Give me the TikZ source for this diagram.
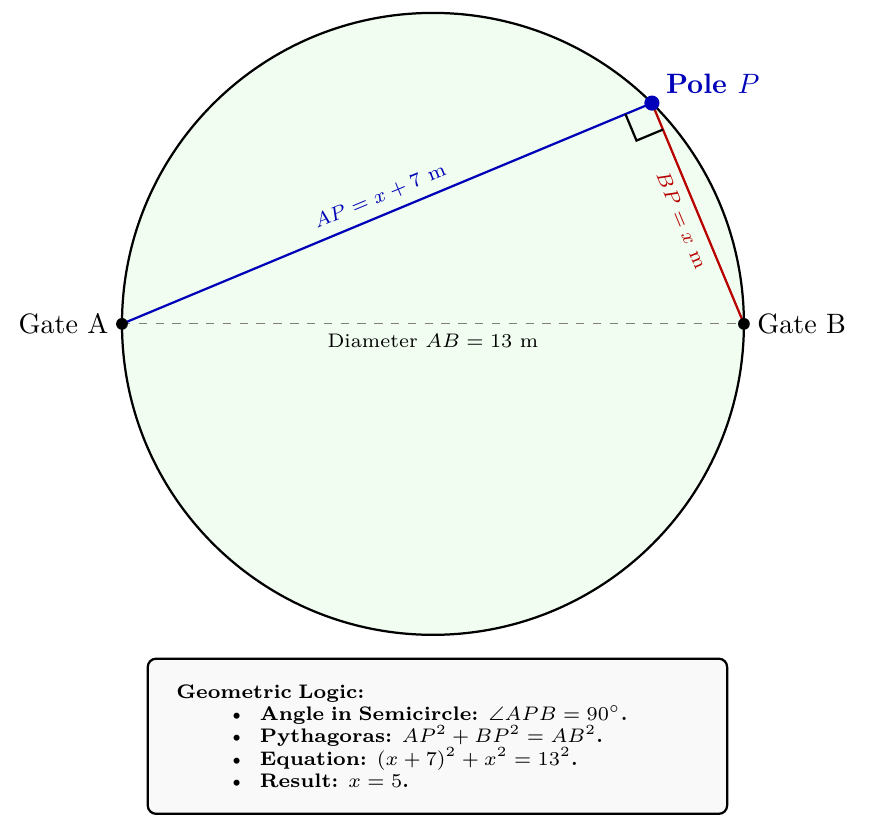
\documentclass[tikz,border=0pt]{standalone}
\usepackage{amsmath}
\usepackage{amssymb}
\usepackage{tikz}
\usetikzlibrary{calc}
\usepackage{xcolor}
\definecolor{poleblue}{RGB}{0,0,185}
\definecolor{sidered}{RGB}{185,0,0}
\definecolor{fieldgreen}{RGB}{240,253,240}
\tikzstyle{sidelabel} = [midway, sloped, font=\scriptsize]
\tikzstyle{logicbox} = [draw, thick, rounded corners=3pt, fill=gray!5, text width=6.55cm, inner xsep=10.2pt, inner ysep=9.2pt, align=left, font=\scriptsize\bfseries]
\newcommand{\logicitem}{\par\hspace*{18pt}\makebox[11.8pt][l]{\textbullet}}

\begin{document}
\begin{tikzpicture}[scale=0.6]
\useasboundingbox (-9.05,-10.57) rectangle (9.24,6.77);

% Field circle, diameter AB = 13
\draw[thick, fill=fieldgreen] (0,0) circle (6.5);
\coordinate (A) at (-6.5,0);
\coordinate (B) at (6.5,0);
\coordinate (P) at (4.577,4.615);

% Diameter
\draw[gray, dashed] (A) -- (B) node[midway, below, text=black, font=\scriptsize] {Diameter $AB = 13$ m};

% Sides of the triangle
\draw[thick, poleblue] (A) -- (P) node[sidelabel, above] {$AP = x + 7$ m};
\draw[thick, sidered] (P) -- (B) node[sidelabel, below] {$BP = x$ m};

% Right angle at P
\coordinate (PA) at ($(P)!0.6cm!(A)$);
\coordinate (PB) at ($(P)!0.6cm!(B)$);
\draw[thick] (PA) -- ($(PA)+(PB)-(P)$) -- (PB);

% Points
\fill (A) circle (3.5pt);
\fill (B) circle (3.5pt);
\fill[poleblue] (P) circle (4.5pt);
\node[left=1.3pt] (gateA) at (A) {Gate A};
\node[right=1.3pt] (gateB) at (B) {Gate B};
\node[above right, xshift=1.5pt, text=poleblue, font=\bfseries] (pole) at (P) {Pole $P$};

% Logic box
\node[logicbox] (logic) at (0.094,-8.62) {Geometric Logic:
\logicitem Angle in Semicircle: $\angle APB = 90^{\circ}$.
\logicitem Pythagoras: $AP^2 + BP^2 = AB^2$.
\logicitem Equation: $(x+7)^2 + x^2 = 13^2$.
\logicitem Result: $x = 5$.};
\end{tikzpicture}
\end{document}
